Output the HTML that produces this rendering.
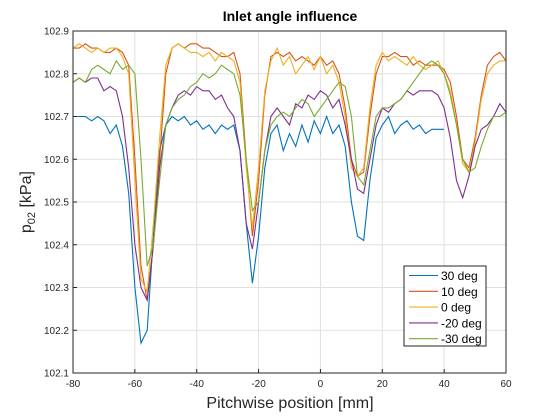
<!DOCTYPE html>
<html><head><meta charset="utf-8"><style>
html,body{margin:0;padding:0;background:#fff;}
svg{display:block;font-family:"Liberation Sans",sans-serif;}
</style></head><body>
<svg id="chart" width="560" height="420"></svg>
<script>
const xVals=[];for(let x=-80;x<=60;x+=2)xVals.push(x);
const seriesNames=["30 deg","10 deg","0 deg","-20 deg","-30 deg"];
const colors=["#0072BD","#D95319","#EDB120","#7E2F8E","#77AC30"];
const s30=[102.70,102.70,102.70,102.69,102.70,102.69,102.66,102.68,102.63,102.52,102.30,102.17,102.20,102.42,102.62,102.68,102.70,102.69,102.70,102.68,102.69,102.67,102.68,102.66,102.68,102.67,102.68,102.62,102.45,102.31,102.42,102.58,102.66,102.68,102.62,102.66,102.63,102.68,102.64,102.69,102.66,102.70,102.66,102.68,102.63,102.50,102.42,102.41,102.55,102.65,102.68,102.70,102.66,102.68,102.69,102.67,102.68,102.66,102.67,102.67,102.67,null,null,null,null,null,null,null,null,null,null];
const s10=[102.86,102.86,102.87,102.86,102.86,102.85,102.85,102.86,102.85,102.82,102.60,102.35,102.27,102.40,102.60,102.80,102.86,102.87,102.86,102.87,102.87,102.86,102.86,102.85,102.84,102.84,102.85,102.80,102.60,102.42,102.55,102.75,102.84,102.85,102.84,102.85,102.83,102.84,102.83,102.82,102.84,102.82,102.83,102.80,102.72,102.60,102.56,102.57,102.70,102.80,102.84,102.84,102.85,102.84,102.84,102.82,102.83,102.82,102.82,102.82,102.81,102.78,102.70,102.60,102.58,102.65,102.75,102.82,102.84,102.85,102.83];
const s0=[102.86,102.87,102.86,102.85,102.86,102.85,102.86,102.86,102.84,102.80,102.55,102.32,102.29,102.45,102.65,102.82,102.86,102.87,102.86,102.85,102.85,102.84,102.85,102.83,102.85,102.84,102.83,102.78,102.58,102.44,102.58,102.76,102.83,102.86,102.82,102.84,102.80,102.82,102.84,102.81,102.84,102.80,102.82,102.78,102.70,102.58,102.56,102.58,102.72,102.82,102.85,102.83,102.84,102.83,102.82,102.84,102.82,102.81,102.82,102.83,102.80,102.76,102.68,102.59,102.57,102.64,102.74,102.80,102.82,102.83,102.83];
const sm20=[102.78,102.79,102.78,102.79,102.79,102.76,102.77,102.76,102.70,102.58,102.40,102.30,102.27,102.40,102.58,102.68,102.72,102.75,102.76,102.75,102.77,102.76,102.76,102.74,102.75,102.72,102.70,102.62,102.45,102.39,102.50,102.62,102.70,102.72,102.70,102.68,102.73,102.72,102.75,102.74,102.76,102.75,102.72,102.74,102.68,102.60,102.53,102.52,102.60,102.68,102.72,102.71,102.73,102.74,102.76,102.75,102.76,102.76,102.76,102.75,102.72,102.65,102.55,102.51,102.56,102.63,102.67,102.68,102.70,102.73,102.71];
const sm30=[102.78,102.79,102.78,102.81,102.82,102.81,102.80,102.83,102.81,102.82,102.80,102.60,102.35,102.40,102.55,102.68,102.72,102.74,102.75,102.77,102.78,102.80,102.79,102.80,102.82,102.81,102.80,102.75,102.60,102.48,102.50,102.62,102.68,102.70,102.71,102.70,102.72,102.74,102.73,102.70,102.72,102.74,102.76,102.78,102.77,102.70,102.56,102.54,102.62,102.70,102.72,102.72,102.73,102.74,102.76,102.78,102.80,102.82,102.83,102.82,102.80,102.75,102.68,102.60,102.57,102.58,102.63,102.67,102.70,102.70,102.71];
const xTicks=[-80,-60,-40,-20,0,20,40,60];
const yTicks=[102.1,102.2,102.3,102.4,102.5,102.6,102.7,102.8,102.9];
const allSeries=[s30,s10,s0,sm20,sm30];

const L=73,R=506,T=31,B=373;
const xs=x=>L+(x+80)/140*(R-L);
const ys=v=>B-(v-102.1)/0.8*(B-T);
const NS="http://www.w3.org/2000/svg";
const svg=document.getElementById('chart');
function mk(t,a,p){const e=document.createElementNS(NS,t);for(const k in a)e.setAttribute(k,a[k]);(p||svg).appendChild(e);return e;}

mk('rect',{x:L,y:T,width:R-L,height:B-T,fill:'#fff'});
const grid=mk('g',{});


xTicks.forEach(t=>{mk('line',{x1:xs(t),x2:xs(t),y1:T,y2:B,stroke:'#e0e0e0','stroke-width':1},grid);});
yTicks.forEach(t=>{mk('line',{x1:L,x2:R,y1:ys(t),y2:ys(t),stroke:'#e0e0e0','stroke-width':1},grid);});

const lines=mk('g',{});


allSeries.forEach((s,i)=>{
  let d='';let pen=false;
  s.forEach((v,j)=>{if(v==null){pen=false;return;}d+=(pen?'L':'M')+xs(xVals[j]).toFixed(1)+','+ys(v).toFixed(1);pen=true;});
  const p=mk('path',{d:d,fill:'none',stroke:colors[i],'stroke-width':1.1},lines);
  
  
});

mk('rect',{x:L,y:T,width:R-L,height:B-T,fill:'none',stroke:'#262626','stroke-width':1});
const xa=mk('g',{});


xTicks.forEach(t=>{
  mk('line',{x1:xs(t),x2:xs(t),y1:B,y2:B-4,stroke:'#262626'},xa);
  const tx=mk('text',{x:xs(t),y:B+14,'text-anchor':'middle','font-size':10,fill:'#262626'},xa);tx.textContent=t;
});
const ya=mk('g',{});


yTicks.forEach(t=>{
  mk('line',{x1:L,x2:L+4,y1:ys(t),y2:ys(t),stroke:'#262626'},ya);
  const tx=mk('text',{x:L-4,y:ys(t)+3.5,'text-anchor':'end','font-size':10,fill:'#262626'},ya);tx.textContent=t.toFixed(1);
});

const lg=mk('g',{});


mk('rect',{x:404,y:266,width:82,height:80,fill:'#fff',stroke:'#262626','stroke-width':1},lg);
seriesNames.forEach((n,i)=>{
  const y=275.5+i*15.8;
  mk('line',{x1:409,x2:438,y1:y,y2:y,stroke:colors[i],'stroke-width':1.1},lg);
  const tx=mk('text',{x:441,y:y+4.5,'font-size':12,fill:'#000'},lg);tx.textContent=n;
  
  
});
</script>
<svg width="0" height="0"></svg>
<div style="position:absolute;left:0;top:0;width:560px;height:420px;pointer-events:none;font-family:'Liberation Sans',sans-serif;">
  <div style="position:absolute;left:0;width:580px;top:8px;text-align:center;font-weight:bold;font-size:14px;color:#000;">Inlet angle influence</div>
  <div style="position:absolute;left:0;width:580px;top:395px;text-align:center;font-size:16px;color:#262626;">Pitchwise position [mm]</div>
  <div style="position:absolute;left:-32px;top:192px;width:120px;text-align:center;font-size:16px;color:#262626;transform:rotate(-90deg);">p<sub style="font-size:11px">02</sub> [kPa]</div>
</div>
</body></html>
